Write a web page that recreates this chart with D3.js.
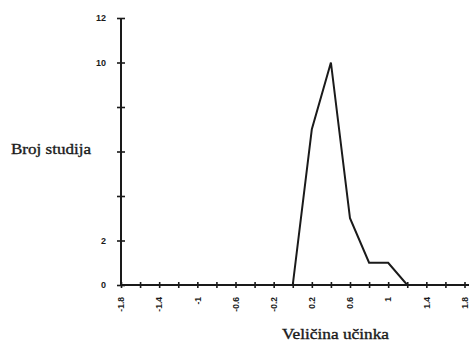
<!DOCTYPE html>
<html><head><meta charset="utf-8">
<script src="https://cdn.jsdelivr.net/npm/d3@7"></script>
<style>body{margin:0;background:#fff}svg{display:block}</style>
</head><body>
<script>
const xValues = [-1.8,-1.6,-1.4,-1.2,-1.0,-0.8,-0.6,-0.4,-0.2,0.0,0.2,0.4,0.6,0.8,1.0,1.2,1.4,1.6,1.8];
const counts  = [0,0,0,0,0,0,0,0,0,0,7,10,3,1,1,0,0,0,0];
const xTickValues = [-1.8,-1.6,-1.4,-1.2,-1.0,-0.8,-0.6,-0.4,-0.2,0.0,0.2,0.4,0.6,0.8,1.0,1.2,1.4,1.6,1.8];
const xTickLabels = ["-1.8","","-1.4","","-1","","-0.6","","-0.2","","0.2","","0.6","","1","","1.4","","1.8"];
const yTickValues = [0,2,4,6,8,10,12];
const yTickLabels = ["0","2","","","","10","12"];
const xTitle = "Veličina učinka";
const yTitle = "Broj studija";

const W = 469, H = 341;
const svg = d3.select("body").append("svg").attr("width", W).attr("height", H);
const x = d3.scaleLinear().domain([-1.8, 1.8]).range([121, 464.5]);
const y = d3.scaleLinear().domain([0, 12]).range([285, 18]);
const ink = "#1a1a1a";

// X axis
const xa = svg.append("g").attr("transform", `translate(0,${y(0)})`)
  .call(d3.axisBottom(x).tickValues(xTickValues).tickSize(0)
    .tickFormat((d,i) => xTickLabels[i]));
xa.select(".domain").remove();
xa.append("line").attr("x1", x(-1.8)).attr("x2", W).attr("stroke", ink).attr("stroke-width", 2);
xa.selectAll(".tick line").attr("y1", -3).attr("y2", 3).attr("stroke", ink).attr("stroke-width", 1.6);
xa.selectAll(".tick text")
  .attr("transform", "rotate(-90)")
  .attr("x", -12).attr("y", 0).attr("dy", "0.32em")
  .attr("text-anchor", "end")
  .attr("font-family", "Liberation Sans, Arial, sans-serif")
  .attr("font-weight", "bold").attr("font-size", 8.5).attr("fill", ink);

// Y axis
const ya = svg.append("g").attr("transform", `translate(${x(-1.8)},0)`)
  .call(d3.axisLeft(y).tickValues(yTickValues).tickSize(0)
    .tickFormat((d,i) => yTickLabels[i]));
ya.select(".domain").remove();
ya.append("line").attr("y1", y(12)).attr("y2", y(0)).attr("stroke", ink).attr("stroke-width", 2);
ya.selectAll(".tick line").attr("x1", -4).attr("x2", 4).attr("stroke", ink).attr("stroke-width", 1.6);
ya.selectAll(".tick text").attr("x", -15)
  .attr("font-family", "Liberation Sans, Arial, sans-serif")
  .attr("font-weight", "bold").attr("font-size", 9).attr("fill", ink);

// Line
const data = xValues.map((v,i) => ({x: v, y: counts[i]}));
svg.append("path").datum(data)
  .attr("fill", "none").attr("stroke", ink).attr("stroke-width", 2)
  .attr("stroke-linejoin", "miter")
  .attr("d", d3.line().x(d => x(d.x)).y(d => y(d.y)));

// Titles
svg.append("text").attr("x", 11).attr("y", 154).text(yTitle)
  .attr("font-family", "Liberation Serif, Times New Roman, serif")
  .attr("font-size", 15).attr("fill", ink)
  .attr("stroke", ink).attr("stroke-width", 0.35)
  .attr("textLength", 80).attr("lengthAdjust", "spacingAndGlyphs");
svg.append("text").attr("x", 282).attr("y", 339).text(xTitle)
  .attr("font-family", "Liberation Serif, Times New Roman, serif")
  .attr("font-size", 15).attr("fill", ink)
  .attr("stroke", ink).attr("stroke-width", 0.35)
  .attr("textLength", 107).attr("lengthAdjust", "spacingAndGlyphs");
</script>
</body></html>
